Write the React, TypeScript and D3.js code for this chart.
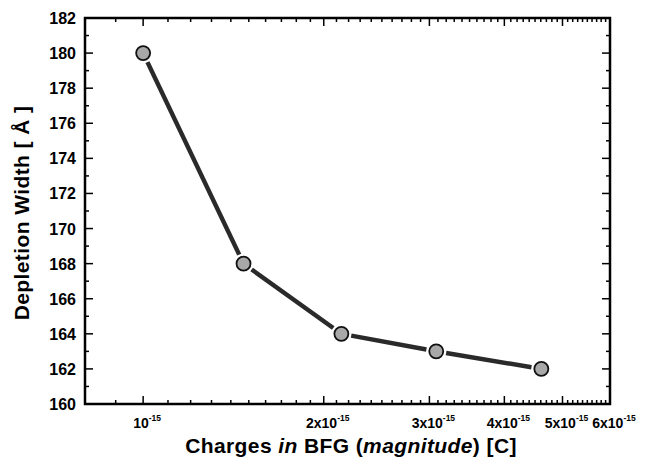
import React, { useEffect, useRef } from 'react';
import * as d3 from 'd3';

// charge magnitude (C) and depletion width (Å)
const charges = [1.0e-15, 1.47e-15, 2.14e-15, 3.08e-15, 4.61e-15];
const widths = [180, 168, 164, 163, 162];

const xMajorTicks = [1e-15, 2e-15, 3e-15, 4e-15, 5e-15, 6e-15];
const xMajorLabels = ['', '2x', '3x', '4x', '5x', '6x'];
const yTicks = [160, 162, 164, 166, 168, 170, 172, 174, 176, 178, 180, 182];

export default function App() {
  const ref = useRef<SVGSVGElement>(null);

  useEffect(() => {
    const width = 648;
    const height = 465;
    const m = { left: 85, right: 38, top: 18, bottom: 61 };

    const svg = d3.select(ref.current);
    svg.selectAll('*').remove();

    const x = d3.scaleLog().domain([0.8e-15, 6e-15]).range([m.left, width - m.right]);
    const y = d3.scaleLinear().domain([160, 182]).range([height - m.bottom, m.top]);

    const g = svg.append('g');
    const x0 = m.left, x1 = width - m.right, y0 = height - m.bottom, y1 = m.top;
    const font = 'Liberation Sans, Arial, sans-serif';

    // minor ticks on x every 0.1e-15
    const xMinor = d3.range(8, 61).map(d => d * 1e-16);
    xMinor.forEach(v => {
      const isMajor = xMajorTicks.some(t => Math.abs(t - v) < 1e-20);
      const len = isMajor ? 8 : 4;
      const px = x(v);
      g.append('line').attr('x1', px).attr('x2', px).attr('y1', y0).attr('y2', y0 - len)
        .attr('stroke', '#000').attr('stroke-width', 1.5);
      g.append('line').attr('x1', px).attr('x2', px).attr('y1', y1).attr('y2', y1 + len)
        .attr('stroke', '#000').attr('stroke-width', 1.5);
    });

    // y ticks, major every 2, minor every 1
    d3.range(160, 183).forEach(v => {
      const len = v % 2 === 0 ? 8 : 4;
      const py = y(v);
      g.append('line').attr('x1', x0).attr('x2', x0 + len).attr('y1', py).attr('y2', py)
        .attr('stroke', '#000').attr('stroke-width', 1.5);
      g.append('line').attr('x1', x1).attr('x2', x1 - len).attr('y1', py).attr('y2', py)
        .attr('stroke', '#000').attr('stroke-width', 1.5);
    });

    // frame
    g.append('rect').attr('x', x0).attr('y', y1).attr('width', x1 - x0).attr('height', y0 - y1)
      .attr('fill', 'none').attr('stroke', '#000').attr('stroke-width', 2.5);

    // y tick labels
    g.selectAll('.ylab').data(yTicks).enter().append('text')
      .attr('x', 76).attr('y', d => y(d) + 6)
      .attr('text-anchor', 'end')
      .attr('font-family', font)
      .attr('font-weight', 'bold').attr('font-size', 16)
      .text(d => d);

    // x tick labels
    xMajorTicks.forEach((t, i) => {
      const tx = g.append('text')
        .attr('x', x(t) + 4).attr('y', 428)
        .attr('text-anchor', 'middle')
        .attr('font-family', font)
        .attr('font-weight', 'bold').attr('font-size', 14);
      tx.append('tspan').text(xMajorLabels[i] + '10');
      tx.append('tspan').attr('dy', -7).attr('font-size', 8.5).text('-15');
    });

    // line segments with gaps near markers
    const r = 7;
    const pts = charges.map((c, i) => [x(c), y(widths[i])]);
    for (let i = 0; i < pts.length - 1; i++) {
      const [ax, ay] = pts[i];
      const [bx, by] = pts[i + 1];
      const dx = bx - ax, dy = by - ay;
      const L = Math.sqrt(dx * dx + dy * dy);
      const off = r + 3;
      g.append('line')
        .attr('x1', ax + dx / L * off).attr('y1', ay + dy / L * off)
        .attr('x2', bx - dx / L * off).attr('y2', by - dy / L * off)
        .attr('stroke', '#2a2a2a').attr('stroke-width', 4.5);
    }

    g.selectAll('.pt').data(pts).enter().append('circle')
      .attr('cx', d => d[0]).attr('cy', d => d[1]).attr('r', r)
      .attr('fill', '#a8a8a8').attr('stroke', '#111').attr('stroke-width', 1.8);

    // axis titles
    const xt = g.append('text')
      .attr('x', 351).attr('y', 453)
      .attr('text-anchor', 'middle')
      .attr('font-family', font)
      .attr('font-weight', 'bold').attr('font-size', 21)
      .attr('letter-spacing', 0.4);
    xt.append('tspan').text('Charges ');
    xt.append('tspan').attr('font-style', 'italic').text('in');
    xt.append('tspan').text(' BFG (');
    xt.append('tspan').attr('font-style', 'italic').text('magnitude');
    xt.append('tspan').text(') [C]');

    g.append('text')
      .attr('transform', 'translate(29,213) rotate(-90)')
      .attr('text-anchor', 'middle')
      .attr('font-family', font)
      .attr('font-weight', 'bold').attr('font-size', 21)
      .attr('letter-spacing', 0.4)
      .text('Depletion Width [ Å ]');
  }, []);

  return (
    <svg ref={ref} width={648} height={465}
      style={{ position: 'absolute', left: 0, top: 0, background: '#fff' }} />
  );
}
